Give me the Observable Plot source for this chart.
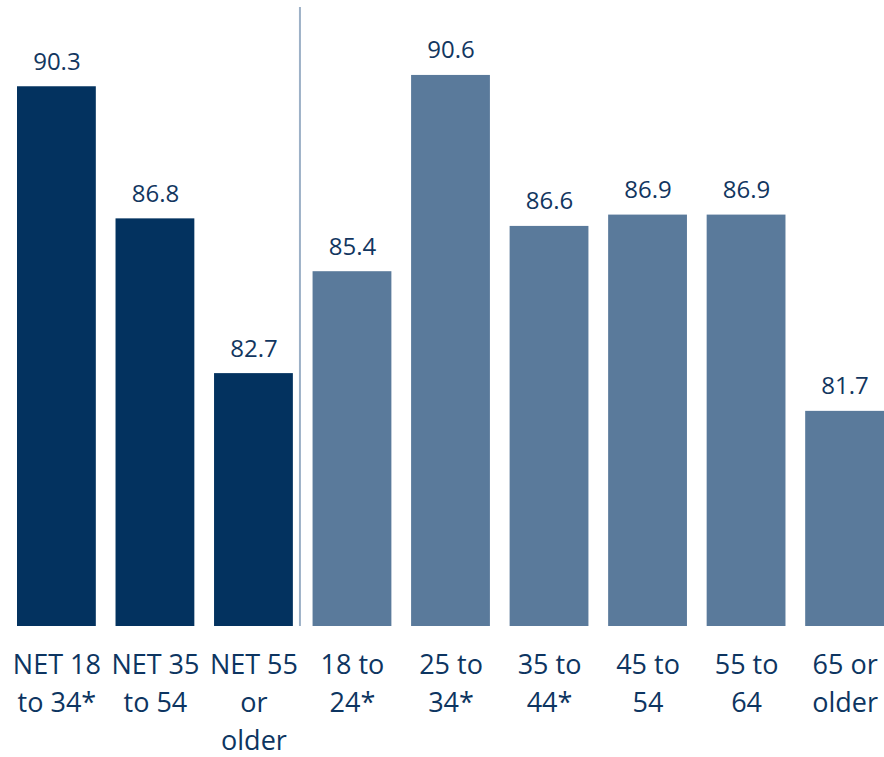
<!DOCTYPE html>
<html>
<head>
<meta charset="utf-8">
<script src="https://cdn.jsdelivr.net/npm/d3@7"></script>
<script src="https://cdn.jsdelivr.net/npm/@observablehq/plot@0.6"></script>
<style>
  html, body { margin: 0; padding: 0; background: #fff; }
  #chart svg { display: block; }
</style>
</head>
<body>
<div id="chart"></div>
<script>
const categories = [
  "NET 18\nto 34*", "NET 35\nto 54", "NET 55\nor\nolder",
  "18 to\n24*", "25 to\n34*", "35 to\n44*", "45 to\n54", "55 to\n64", "65 or\nolder"
];
const values = [90.3, 86.8, 82.7, 85.4, 90.6, 86.6, 86.9, 86.9, 81.7];
const groups = ["NET", "NET", "NET", "Age", "Age", "Age", "Age", "Age", "Age"];
const separatorAfter = ["NET 55\nor\nolder"];

const data = categories.map((c, i) => ({category: c, value: values[i], group: groups[i]}));

const chart = Plot.plot({
  width: 884,
  height: 757,
  marginLeft: 17,
  marginRight: 0,
  marginTop: 7,
  marginBottom: 131,
  style: {fontFamily: "'Open Sans', sans-serif", background: "#fff"},
  x: {domain: categories, paddingInner: 0.2, paddingOuter: 0, round: false, label: null},
  y: {domain: [76, 92.4], clamp: true, axis: null},
  color: {domain: ["NET", "Age"], range: ["#03325f", "#5a7a9b"]},
  marks: [
    Plot.barY(data, {x: "category", y: "value", fill: "group"}),
    Plot.ruleX(separatorAfter, {x: d => d, dx: 46, stroke: "#9db1c7", strokeWidth: 2}),
    Plot.text(data, {x: "category", y: "value", text: d => d.value.toFixed(1), dy: -17, lineAnchor: "bottom", fontSize: 24, fill: "#12365f"}),
    Plot.axisX({tickSize: 0, tickPadding: 20, fontSize: 27, lineHeight: 1.42, color: "#0d3561", label: null})
  ]
});
document.getElementById("chart").append(chart);
</script>
</body>
</html>
